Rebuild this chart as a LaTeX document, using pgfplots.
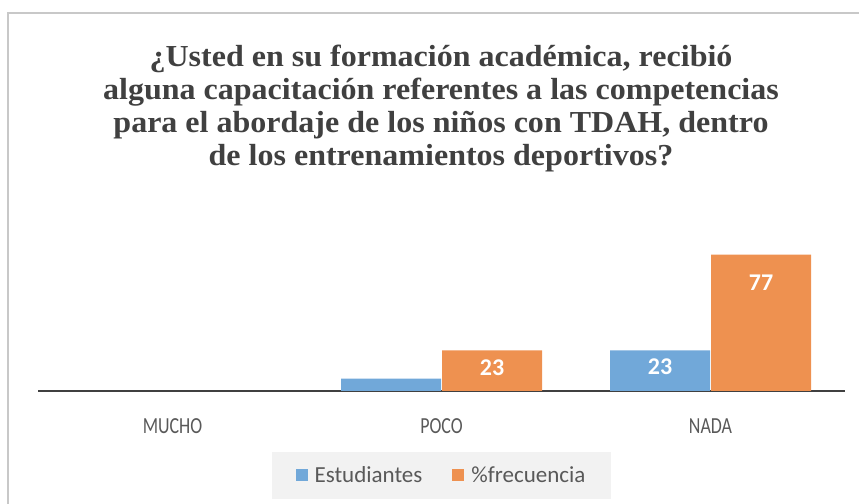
\documentclass[border=0pt]{standalone}
\usepackage{pgfplots}
\pgfplotsset{compat=1.18}
\usepackage{pgfplotstable}
\usepackage{fontspec}
\setmainfont{Carlito}
\newfontfamily\titlefont[FakeStretch=1.05]{Liberation Serif}
\newfontfamily\tickfont[FakeStretch=0.78]{Carlito}
\definecolor{cblue}{HTML}{71A8D9}
\definecolor{corange}{HTML}{EE9150}
\definecolor{ctitle}{HTML}{404040}
\definecolor{ctick}{HTML}{595959}
\definecolor{cframe}{HTML}{C8C8C8}
\definecolor{clegbg}{HTML}{F2F2F2}
\pgfplotstableread{
x y lab off
1 7 {} 0
2 23 23 16
}\blue
\pgfplotstableread{
x y lab off
1 23 23 17
2 77 77 28
}\orange
\begin{document}
\begin{tikzpicture}[x=1bp,y=1bp]
\useasboundingbox (0,0) rectangle (859,504);
\draw[cframe, line width=2bp] (8,0) -- (8,491) -- (859,491);
\node[font=\titlefont\bfseries\fontsize{30.5bp}{33bp}\selectfont, text=ctitle, align=center, anchor=center] at (441,395) {¿Usted en su formación académica, recibió\\alguna capacitación referentes a las competencias\\para el abordaje de los niños con TDAH, dentro\\de los entrenamientos deportivos?};
\begin{axis}[
  at={(38bp,113bp)}, anchor=south west,
  scale only axis, width=807bp, height=159.3bp,
  xmin=-0.5, xmax=2.5, ymin=0, ymax=90,
  ybar=1bp, bar width=100bp,
  axis y line=none, axis x line*=bottom,
  x axis line style={line width=2.5bp, color=ctitle, -},
  xtick={0,1,2}, xticklabels={MUCHO,POCO,NADA},
  major tick length=0pt,
  xticklabel style={font=\tickfont\fontsize{23bp}{26bp}\selectfont, text=ctick, yshift=-24bp},
  point meta=explicit symbolic,
  nodes near coords={\pgfplotspointmeta},
  visualization depends on={\thisrow{off} \as \off},
  every node near coord/.append style={anchor=center, yshift=-\off bp, text=white, font=\bfseries\fontsize{24bp}{26bp}\selectfont},
  legend columns=2,
  legend style={at={(0.5,0)}, anchor=north, yshift=-61bp, fill=clegbg, draw=none,
    font=\fontsize{23bp}{26bp}\selectfont, text=ctick, inner xsep=24bp, inner ysep=12.5bp,
    /tikz/every even column/.append style={column sep=28bp}},
  legend image code/.code={\fill[#1] (0bp,-6bp) rectangle (12bp,6bp); \path (17bp,0bp);},
]
\addplot[fill=cblue, draw=none] table[x=x, y=y, meta=lab] {\blue};
\addplot[fill=corange, draw=none] table[x=x, y=y, meta=lab] {\orange};
\legend{Estudiantes,\%frecuencia}
\end{axis}
\end{tikzpicture}
\end{document}
